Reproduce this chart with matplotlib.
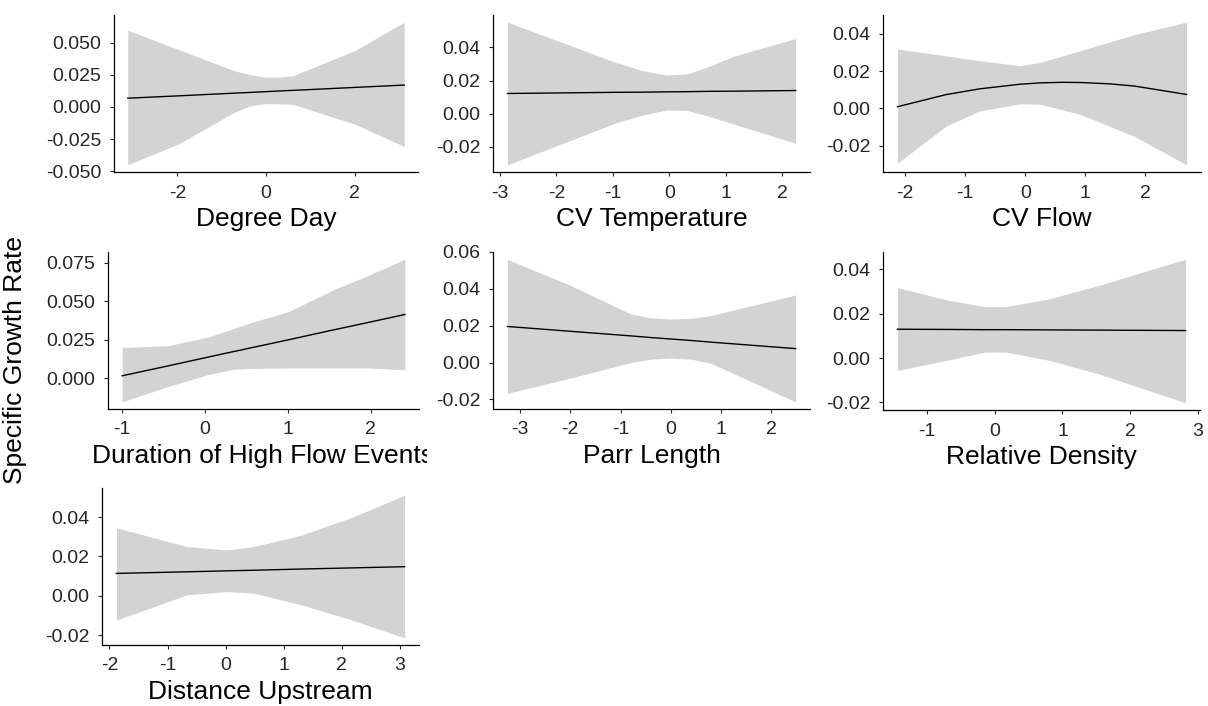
import matplotlib
matplotlib.use("Agg")
import matplotlib.pyplot as plt
from matplotlib.transforms import Bbox, TransformedBbox

plt.rcParams['font.family'] = ['Liberation Sans', 'DejaVu Sans']
plt.rcParams['axes.unicode_minus'] = False

# ---------------- data ----------------
degree_day_x = [-3.12, -1.93, -0.73, -0.35, 0.0, 0.30, 0.61, 1.30, 2.02, 3.12]
degree_day_fit = [0.0068, 0.0087, 0.0107, 0.0113, 0.0119, 0.0124, 0.0129, 0.0140, 0.0152, 0.0170]
degree_day_lower = [-0.0450, -0.0280, -0.0044, 0.0010, 0.0026, 0.0024, 0.0021, -0.0056, -0.0136, -0.0306]
degree_day_upper = [0.0597, 0.0440, 0.0283, 0.0250, 0.0230, 0.0232, 0.0243, 0.0339, 0.0440, 0.0659]

cv_temp_x = [-2.87, -0.99, -0.50, -0.05, 0.31, 0.70, 1.13, 2.24]
cv_temp_fit = [0.0122, 0.0129, 0.0130, 0.0132, 0.0133, 0.0135, 0.0136, 0.0140]
cv_temp_lower = [-0.0309, -0.0061, -0.0010, 0.0022, 0.0020, -0.0015, -0.0061, -0.0179]
cv_temp_upper = [0.0553, 0.0315, 0.0262, 0.0234, 0.0240, 0.0285, 0.0346, 0.0454]

cv_flow_x = [-2.13, -1.32, -0.76, -0.08, 0.25, 0.60, 0.92, 1.40, 1.82, 2.69]
cv_flow_fit = [0.0009, 0.0074, 0.0105, 0.0130, 0.0137, 0.0140, 0.0139, 0.0132, 0.0120, 0.0075]
cv_flow_lower = [-0.0294, -0.0095, -0.0014, 0.0025, 0.0022, -0.0006, -0.0032, -0.0095, -0.0150, -0.0303]
cv_flow_upper = [0.0319, 0.0282, 0.0256, 0.0229, 0.0247, 0.0280, 0.0310, 0.0356, 0.0396, 0.0463]

high_flow_x = [-1.00, -0.45, 0.05, 0.35, 0.55, 1.00, 1.55, 1.95, 2.41]
high_flow_fit = [0.0015, 0.0079, 0.0138, 0.0173, 0.0196, 0.0248, 0.0313, 0.0359, 0.0413]
high_flow_lower = [-0.0154, -0.0055, 0.0025, 0.0058, 0.0063, 0.0066, 0.0066, 0.0066, 0.0055]
high_flow_upper = [0.0199, 0.0210, 0.0268, 0.0323, 0.0360, 0.0430, 0.0574, 0.0662, 0.0772]

parr_x = [-3.25, -2.00, -0.80, -0.40, 0.00, 0.40, 0.80, 2.48]
parr_fit = [0.0196, 0.0170, 0.0145, 0.0136, 0.0128, 0.0120, 0.0111, 0.0076]
parr_lower = [-0.0167, -0.0084, 0.0000, 0.0019, 0.0024, 0.0019, -0.0004, -0.0213]
parr_upper = [0.0560, 0.0419, 0.0264, 0.0243, 0.0236, 0.0240, 0.0255, 0.0367]

density_x = [-1.44, -0.68, -0.14, 0.16, 0.80, 1.54, 2.82]
density_fit = [0.0130, 0.0129, 0.0128, 0.0128, 0.0127, 0.0126, 0.0124]
density_lower = [-0.0056, -0.0008, 0.0027, 0.0027, -0.0010, -0.0072, -0.0202]
density_upper = [0.0318, 0.0260, 0.0232, 0.0232, 0.0267, 0.0328, 0.0446]

distance_x = [-1.88, -0.67, 0.02, 0.48, 1.28, 2.19, 3.08]
distance_fit = [0.0114, 0.0122, 0.0127, 0.0130, 0.0136, 0.0142, 0.0148]
distance_lower = [-0.0123, 0.0005, 0.0022, 0.0014, -0.0043, -0.0124, -0.0213]
distance_upper = [0.0346, 0.0250, 0.0233, 0.0250, 0.0306, 0.0400, 0.0511]

x_titles = ["Degree Day", "CV Temperature", "CV Flow", "Duration of High Flow Events",
            "Parr Length", "Relative Density", "Distance Upstream"]
y_title = "Specific Growth Rate"

degree_day_yticks = [-0.050, -0.025, 0.000, 0.025, 0.050]
cv_temp_yticks = [-0.02, 0.00, 0.02, 0.04]
cv_flow_yticks = [-0.02, 0.00, 0.02, 0.04]
high_flow_yticks = [0.000, 0.025, 0.050, 0.075]
parr_yticks = [-0.02, 0.00, 0.02, 0.04, 0.06]
density_yticks = [-0.02, 0.00, 0.02, 0.04]
distance_yticks = [-0.02, 0.00, 0.02, 0.04]

degree_day_xticks = [-2, 0, 2]
cv_temp_xticks = [-3, -2, -1, 0, 1, 2]
cv_flow_xticks = [-2, -1, 0, 1, 2]
high_flow_xticks = [-1, 0, 1, 2]
parr_xticks = [-3, -2, -1, 0, 1, 2]
density_xticks = [-1, 0, 1, 2, 3]
distance_xticks = [-2, -1, 0, 1, 2, 3]

# ---------------- layout ----------------
W, H = 1208, 706
fig = plt.figure(figsize=(W / 100, H / 100), dpi=100)
fig.patch.set_facecolor("white")

# (left, top, right, bottom) in pixels
boxes = [
    (114, 15, 418, 172),
    (493, 15, 810, 172),
    (883, 15, 1201, 172),
    (108, 252, 419, 409),
    (493, 252, 810, 409),
    (883, 252, 1200, 410),
    (102, 488, 419, 645),
]

panels = [
    (degree_day_x, degree_day_fit, degree_day_lower, degree_day_upper, degree_day_xticks, degree_day_yticks, 3),
    (cv_temp_x, cv_temp_fit, cv_temp_lower, cv_temp_upper, cv_temp_xticks, cv_temp_yticks, 2),
    (cv_flow_x, cv_flow_fit, cv_flow_lower, cv_flow_upper, cv_flow_xticks, cv_flow_yticks, 2),
    (high_flow_x, high_flow_fit, high_flow_lower, high_flow_upper, high_flow_xticks, high_flow_yticks, 3),
    (parr_x, parr_fit, parr_lower, parr_upper, parr_xticks, parr_yticks, 2),
    (density_x, density_fit, density_lower, density_upper, density_xticks, density_yticks, 2),
    (distance_x, distance_fit, distance_lower, distance_upper, distance_xticks, distance_yticks, 2),
]

RIBBON = "#D3D3D3"
TICK_COL = "#262626"
TICK_FS = 14
TITLE_FS = 19


def expand(lo, hi, f=0.05):
    r = hi - lo
    return lo - f * r, hi + f * r


for (l, t, r, b), (x, fit, lo, hi, xt, yt, dec), title in zip(boxes, panels, x_titles):
    ax = fig.add_axes([l / W, 1 - b / H, (r - l) / W, (b - t) / H])
    ax.fill_between(x, lo, hi, color=RIBBON, linewidth=0)
    ax.plot(x, fit, color="black", linewidth=1.0)
    ax.set_xlim(*expand(min(x), max(x)))
    ax.set_ylim(*expand(min(lo), max(hi)))
    ax.set_xticks(xt)
    ax.set_xticklabels([f"{v:g}" for v in xt])
    ax.set_yticks(yt)
    ax.set_yticklabels([f"{v:.{dec}f}" for v in yt])
    for s in ("top", "right"):
        ax.spines[s].set_visible(False)
    for s in ("left", "bottom"):
        ax.spines[s].set_linewidth(0.9)
        ax.spines[s].set_color("black")
    ax.tick_params(direction="out", length=3, width=0.8, color=TICK_COL,
                   labelsize=TICK_FS, labelcolor=TICK_COL, pad=6)
    ax.set_facecolor("none")
    ax.set_xlabel(title, fontsize=TITLE_FS, color="black", labelpad=4)
    lab = ax.xaxis.label
    lab.set_clip_on(True)
    lab.set_clip_box(TransformedBbox(Bbox([[0, 0], [427 / W, 1]]), fig.transFigure)
                     if title.startswith("Duration") else
                     TransformedBbox(Bbox([[0, 0], [1, 1]]), fig.transFigure))

fig.text(15 / W, 1 - 360 / H, y_title, rotation=90, ha="center", va="center",
         fontsize=TITLE_FS, color="black")

fig.savefig("out.png", dpi=100, facecolor="white")
